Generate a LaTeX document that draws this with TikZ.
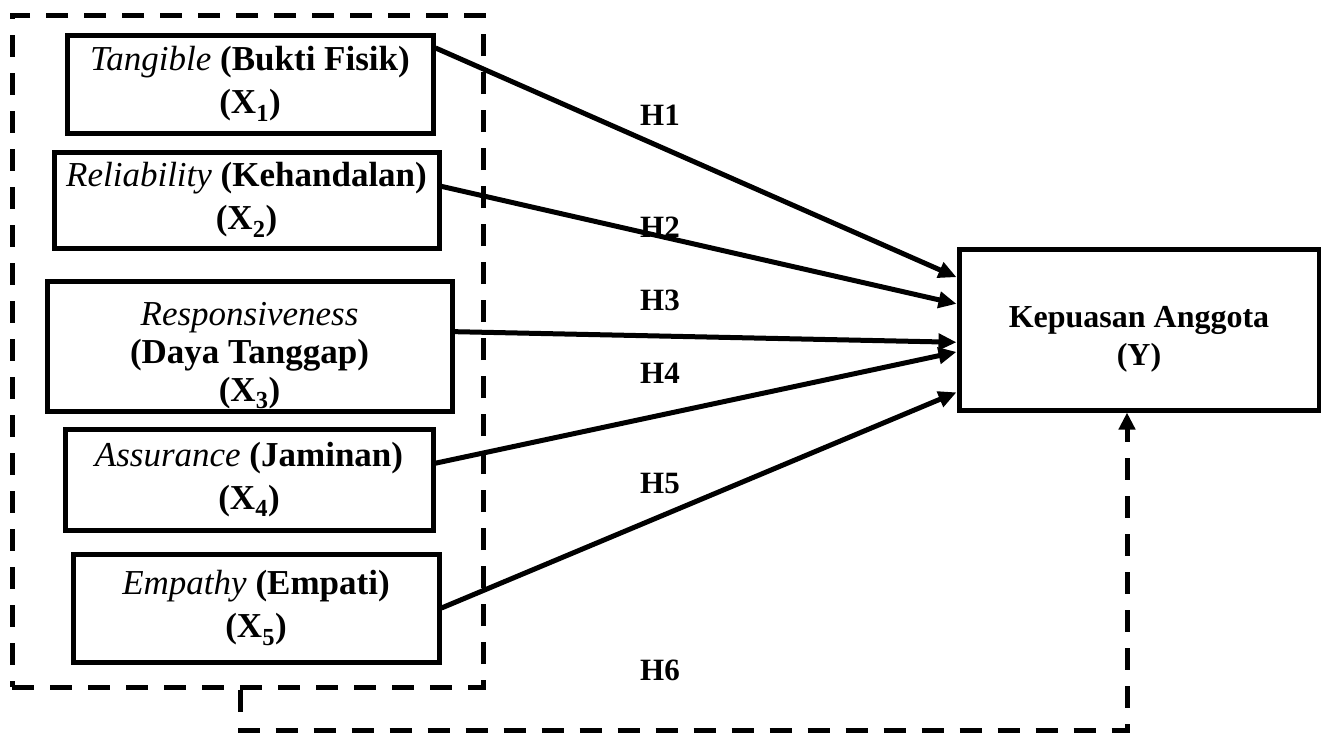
\documentclass[tikz,border=0pt]{standalone}
\usepackage{fontspec}
\setmainfont{Liberation Serif}
\usetikzlibrary{arrows.meta,positioning}
\newcommand{\engterm}[1]{{\mdseries\itshape #1}}

\begin{document}
\begin{tikzpicture}[x=1pt,y=-1pt]
  \tikzset{var/.style={draw, line width=5pt, align=center, inner sep=0pt, font=\bfseries\fontsize{35}{43}\selectfont},
           hyp/.style={font=\bfseries\fontsize{31}{36}\selectfont},
           dash line/.style={line width=5pt, dash pattern=on 22pt off 16pt},
           link/.style={line width=5pt, -{Triangle[length=18pt,width=16pt]}}}
  \useasboundingbox (0,0) rectangle (1321,740);
  \node[draw, dash line, minimum width=471pt, minimum height=672pt] (grp) at (247.5,351) {};
  \node[var, minimum width=366pt, minimum height=98pt] (x1) at (250,84) {\engterm{Tangible} (Bukti Fisik)\\(X\textsubscript{1})};
  \node[var, minimum width=385pt, minimum height=96pt] (x2) at (246.5,200) {\engterm{Reliability} (Kehandalan)\\(X\textsubscript{2})};
  \node[var, font=\bfseries\fontsize{35}{38}\selectfont, minimum width=405pt, minimum height=130pt] (x3) at (249.5,346) {\rule{0pt}{42pt}\engterm{Responsiveness}\\(Daya Tanggap)\\(X\textsubscript{3})};
  \node[var, minimum width=368pt, minimum height=101pt] (x4) at (249,479.5) {\engterm{Assurance} (Jaminan)\\(X\textsubscript{4})};
  \node[var, minimum width=366pt, minimum height=108pt] (x5) at (256,608) {\engterm{Empathy} (Empati)\\(X\textsubscript{5})};
  \node[var, font=\bfseries\fontsize{32}{38}\selectfont, minimum width=360pt, minimum height=161pt] (y) at (1139,329.5) {\rule{0pt}{40pt}Kepuasan Anggota\\(Y)};

  \draw[link] (x1.11) -- (y.164);
  \draw[link] (x2.4) -- (y.172);
  \draw[link] (x3.4) -- (y.184);
  \draw[link] (x4.5) -- (y.187);
  \draw[link] (x5.0) -- (y.199);

  \coordinate (h6turn) at (240,730);
  \draw[dash line, -{Triangle[length=17pt,width=16pt]}] ([xshift=-7.5pt]grp.south) -- (h6turn) -| ([xshift=-12pt]y.south);

  \node[hyp] (h1) at (660,115) {H1};
  \node[hyp] (h2) at (660,227) {H2};
  \node[hyp] (h3) at (660,300) {H3};
  \node[hyp] (h4) at (660,373) {H4};
  \node[hyp] (h5) at (660,483) {H5};
  \node[hyp] (h6) at (660,670) {H6};
\end{tikzpicture}
\end{document}
